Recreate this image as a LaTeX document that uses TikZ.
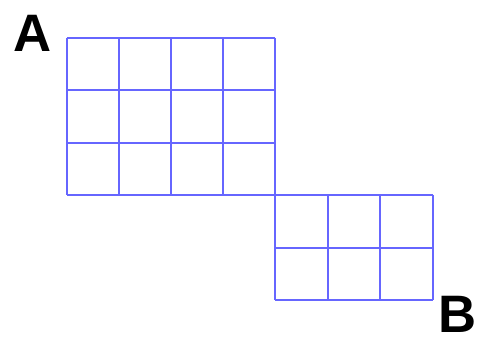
\documentclass[tikz,border=0pt]{standalone}
\usepackage{fontspec}
\setmainfont{Liberation Sans}
\usepackage{tikz}

\begin{document}
\begin{tikzpicture}[x=0.02cm, y=-0.02cm,
  gridline/.style={draw=blue!60, line width=1.1pt},
  corner/.style={font=\fontsize{30}{30}\selectfont\bfseries, inner sep=0pt, anchor=base west}]
\useasboundingbox (0,0) rectangle (478,341);
% ================= upper block: 4 x 3 cells =================
\foreach \y in {38,90.33,142.67,195}{\draw[gridline] (67,\y) -- (275,\y);}
\foreach \x in {67,119,171,223,275}{\draw[gridline] (\x,38) -- (\x,195);}
% ================= lower block: 3 x 2 cells =================
\foreach \y in {195,247.67,300}{\draw[gridline] (275,\y) -- (433,\y);}
\foreach \x in {275,327.67,380.33,433}{\draw[gridline] (\x,195) -- (\x,300);}
% ================= labels =================
\node[corner] (A) at (13,52) {A};
\node[corner] (B) at (438,333) {B};
\end{tikzpicture}
\end{document}
